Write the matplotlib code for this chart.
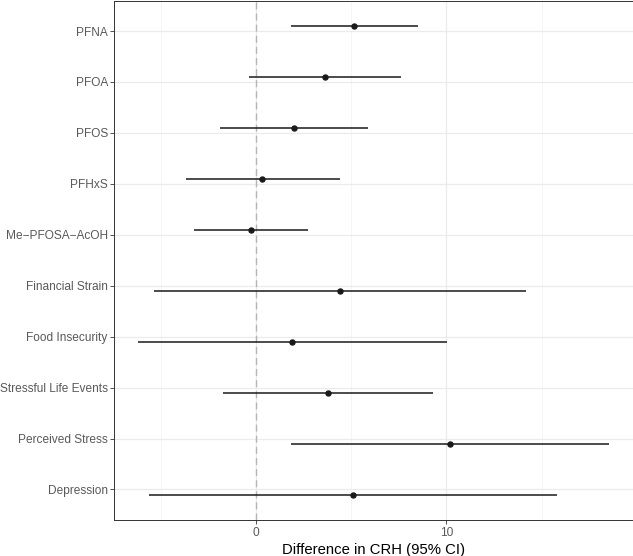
import numpy as np
import matplotlib
matplotlib.use('Agg')
import matplotlib.pyplot as plt

plt.rcParams['font.family'] = ['Liberation Sans', 'DejaVu Sans']

# exposures, top to bottom
labels = ['PFNA', 'PFOA', 'PFOS', 'PFHxS', 'Me\u2212PFOSA\u2212AcOH',
          'Financial Strain', 'Food Insecurity', 'Stressful Life Events',
          'Perceived Stress', 'Depression']
group = ['PFAS'] * 5 + ['Stressor'] * 5
est = [5.17, 3.62, 1.98, 0.33, -0.26, 4.42, 1.90, 3.79, 10.19, 5.07]
lower = [1.84, -0.38, -1.89, -3.69, -3.25, -5.35, -6.20, -1.73, 1.85, -5.61]
upper = [8.53, 7.64, 5.89, 4.39, 2.74, 14.19, 10.03, 9.32, 18.53, 15.78]

W, H = 633, 556
fig = plt.figure(figsize=(W / 100, H / 100), dpi=100)
x0, x1, ytop, ybot = 114.3, 632.5, 0.5, 520.0
ax = fig.add_axes([x0 / W, (H - ybot) / H, (x1 - x0) / W, (ybot - ytop) / H])

n = len(labels)
ypos = np.arange(n, 0, -1)
# small dodge between the two groups
dodge = np.array([0.1 if g == 'PFAS' else -0.1 for g in group])
yy = ypos + dodge

ax.axvline(0, color='#B5B5B5', lw=1.0, ls=(0, (5, 3)), zorder=2)
ax.hlines(yy, lower, upper, color='#1a1a1a', lw=1.1, zorder=3)
ax.plot(est, yy, 'o', color='#1a1a1a', ms=3.6, zorder=4)

ax.set_xlim(-7.44, 19.77)
ax.set_ylim(0.4, n + 0.6)
ax.set_yticks(ypos)
ax.set_yticklabels(labels)
ax.set_xticks([0, 10])
ax.set_xticks([-5, 5, 15], minor=True)
ax.set_yticks([], minor=True)

ax.grid(True, which='major', color='#EBEBEB', lw=0.9, zorder=0)
ax.grid(True, which='minor', axis='x', color='#F2F2F2', lw=0.5, zorder=0)
ax.set_axisbelow(True)

ax.tick_params(which='major', length=2.7, width=0.6, color='#333333',
               labelcolor='#595959', labelsize=8.6, pad=2)
ax.tick_params(which='minor', length=0)
for s in ax.spines.values():
    s.set_color('#333333')
    s.set_linewidth(0.7)

ax.set_xlabel('Difference in CRH (95% CI)', fontsize=10.7, color='black', labelpad=3)

fig.savefig('out.png', dpi=100)
